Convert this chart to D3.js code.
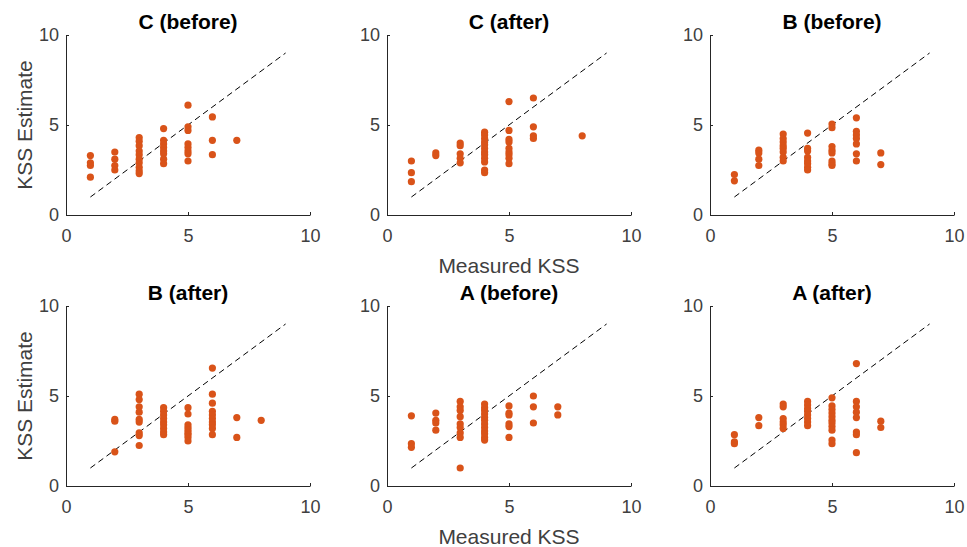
<!DOCTYPE html>
<html lang="en">
<head>
<meta charset="UTF-8">
<title>KSS Estimate vs Measured KSS</title>
<script src="https://cdnjs.cloudflare.com/ajax/libs/d3/7.8.5/d3.min.js"></script>
<style>
  body { margin: 0; background: #fff; }
  svg text { font-family: "Liberation Sans", Arial, sans-serif; fill: #262626; }
</style>
</head>
<body>
<svg id="chart" width="967" height="547"></svg>
<script>
// panel titles, in reading order
var titles = ["C (before)", "C (after)", "B (before)", "B (after)", "A (before)", "A (after)"];
var xTicks = [0, 5, 10];
var yTicks = [0, 5, 10];
var refLine = [[1, 1], [9, 9]];

// each panel: [measured, estimate] pairs
var cBefore = [
  [1,3.3],[1,2.9],[1,2.75],[1,2.1],
  [2,3.5],[2,3.1],[2,2.75],[2,2.5],
  [3,4.3],[3,4.1],[3,3.85],[3,3.55],[3,3.35],[3,3.1],[3,2.9],[3,2.65],[3,2.45],[3,2.3],
  [4,4.8],[4,4.15],[4,3.95],[4,3.75],[4,3.55],[4,3.4],[4,3.1],[4,2.85],
  [5,6.1],[5,4.9],[5,4.7],[5,3.95],[5,3.75],[5,3.55],[5,3.4],[5,3.0],
  [6,5.45],[6,4.15],[6,3.35],
  [7,4.15]
];
var cAfter = [
  [1,3.0],[1,2.35],[1,1.85],
  [2,3.45],[2,3.3],
  [3,4.0],[3,3.85],[3,3.4],[3,3.15],[3,2.9],
  [4,4.6],[4,4.45],[4,4.25],[4,4.05],[4,3.9],[4,3.7],[4,3.5],[4,3.35],[4,3.15],[4,2.95],[4,2.5],[4,2.35],
  [5,6.3],[5,4.7],[5,4.2],[5,4.05],[5,3.7],[5,3.5],[5,3.35],[5,3.15],[5,2.85],
  [6,6.5],[6,4.9],[6,4.4],[6,4.25],
  [8,4.4]
];
var bBefore = [
  [1,2.25],[1,1.9],
  [2,3.6],[2,3.45],[2,3.1],[2,2.75],
  [3,4.5],[3,4.25],[3,4.05],[3,3.85],[3,3.7],[3,3.5],[3,3.2],[3,3.0],
  [4,4.55],[4,3.7],[4,3.55],[4,3.2],[4,3.0],[4,2.85],[4,2.65],[4,2.5],
  [5,5.05],[5,4.85],[5,3.8],[5,3.6],[5,3.45],[5,3.0],[5,2.85],[5,2.75],
  [6,5.4],[6,4.65],[6,4.45],[6,4.25],[6,3.95],[6,3.4],[6,3.0],
  [7,3.45],[7,2.8]
];
var bAfter = [
  [2,3.7],[2,3.6],[2,1.9],
  [3,5.1],[3,4.8],[3,4.4],[3,4.1],[3,3.7],[3,3.55],[3,2.95],[3,2.8],[3,2.25],
  [4,4.35],[4,4.15],[4,3.95],[4,3.75],[4,3.55],[4,3.4],[4,3.2],[4,3.0],[4,2.85],
  [5,4.35],[5,4.0],[5,3.4],[5,3.25],[5,3.1],[5,2.95],[5,2.85],[5,2.7],[5,2.5],
  [6,6.55],[6,5.1],[6,4.6],[6,4.15],[6,3.95],[6,3.75],[6,3.55],[6,3.4],[6,3.2],[6,2.85],
  [7,3.8],[7,2.7],
  [8,3.65]
];
var aBefore = [
  [1,3.9],[1,2.35],[1,2.15],
  [2,4.05],[2,3.65],[2,3.5],[2,3.1],
  [3,4.7],[3,4.4],[3,4.2],[3,3.85],[3,3.45],[3,3.25],[3,2.95],[3,2.7],[3,1.0],
  [4,4.55],[4,4.35],[4,4.2],[4,4.0],[4,3.8],[4,3.65],[4,3.45],[4,3.25],[4,3.05],[4,2.9],[4,2.7],[4,2.55],
  [5,4.45],[5,4.05],[5,3.95],[5,3.45],[5,3.3],[5,2.7],
  [6,5.0],[6,4.4],[6,3.5],
  [7,4.4],[7,3.95]
];
var aAfter = [
  [1,2.85],[1,2.45],[1,2.35],
  [2,3.8],[2,3.35],
  [3,4.55],[3,4.4],[3,3.75],[3,3.55],[3,3.4],[3,3.2],
  [4,4.7],[4,4.5],[4,4.3],[4,4.15],[4,3.95],[4,3.75],[4,3.55],[4,3.35],
  [5,4.9],[5,4.45],[5,4.25],[5,4.05],[5,3.85],[5,3.65],[5,3.5],[5,3.3],[5,3.1],[5,2.55],[5,2.35],
  [6,6.8],[6,4.7],[6,4.4],[6,4.1],[6,3.8],[6,3.0],[6,2.85],[6,1.85],
  [7,3.6],[7,3.25]
];
var panels = [cBefore, cAfter, bBefore, bAfter, aBefore, aAfter];

var svg = d3.select("#chart");
var axisColor = "#262626";
var labelColor = "#404040";
var dotColor = "#D95319";

// layout of the 2x3 grid
var colLeft = [66, 387, 710];
var rowTop = [35, 306];
var pw = 244, ph = 180;

var x = d3.scaleLinear().domain([0, 10]).range([0, pw]);
var y = d3.scaleLinear().domain([0, 10]).range([ph, 0]);

panels.forEach(function (data, i) {
  var col = i % 3, row = Math.floor(i / 3);
  var g = svg.append("g")
    .attr("transform", "translate(" + colLeft[col] + "," + rowTop[row] + ")");

  // reference line y = x
  g.append("line")
    .attr("x1", x(refLine[0][0])).attr("y1", y(refLine[0][1]))
    .attr("x2", x(refLine[1][0])).attr("y2", y(refLine[1][1]))
    .attr("stroke", "#000").attr("stroke-width", 1)
    .attr("stroke-dasharray", "6,4");

  g.selectAll("circle.pt")
    .data(data)
    .enter().append("circle")
    .attr("class", "pt")
    .attr("cx", function (d) { return x(d[0]); })
    .attr("cy", function (d) { return y(d[1]); })
    .attr("r", 3.6)
    .attr("fill", dotColor);

  // axes, matlab style: ticks pointing inward
  var xAxis = g.append("g").attr("transform", "translate(0," + ph + ")")
    .call(d3.axisBottom(x).tickValues(xTicks).tickSizeInner(-3).tickSizeOuter(0).tickPadding(14));
  var yAxis = g.append("g")
    .call(d3.axisLeft(y).tickValues(yTicks).tickSizeInner(-3).tickSizeOuter(0).tickPadding(7));
  [xAxis, yAxis].forEach(function (a) {
    a.select(".domain").attr("stroke", axisColor).attr("stroke-width", 1);
    a.selectAll(".tick line").attr("stroke", axisColor);
    a.selectAll(".tick text").attr("font-size", 18).style("fill", labelColor);
  });

  g.append("text")
    .attr("x", pw / 2).attr("y", -6)
    .attr("text-anchor", "middle")
    .attr("font-size", 21).attr("font-weight", "bold")
    .style("fill", "#000")
    .text(titles[i]);
});

// shared axis labels
rowTop.forEach(function (t) {
  svg.append("text")
    .attr("transform", "translate(32," + (t + ph / 2) + ") rotate(-90)")
    .attr("text-anchor", "middle")
    .attr("font-size", 21)
    .style("fill", labelColor)
    .text("KSS Estimate");
  svg.append("text")
    .attr("x", colLeft[1] + pw / 2).attr("y", t + ph + 58)
    .attr("text-anchor", "middle")
    .attr("font-size", 21)
    .style("fill", labelColor)
    .text("Measured KSS");
});
</script>
</body>
</html>
